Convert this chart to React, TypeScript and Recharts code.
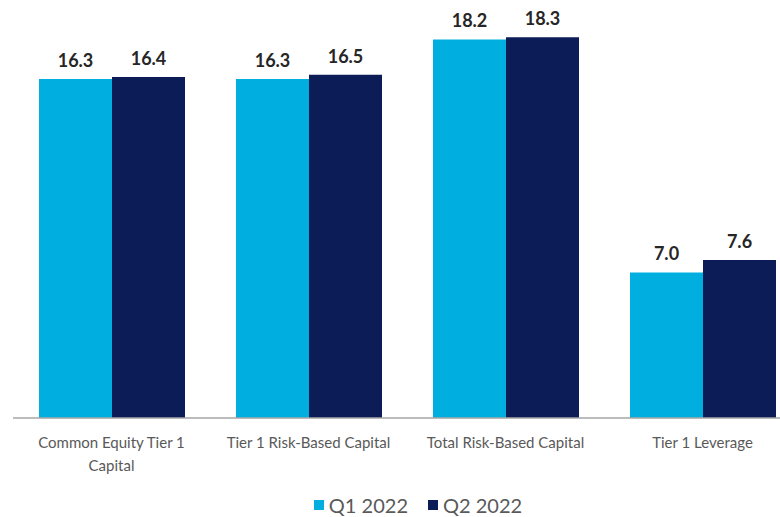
import React from 'react';
import { BarChart, Bar, XAxis, YAxis, Legend, LabelList } from 'recharts';

const categories = ['Common Equity Tier 1\nCapital', 'Tier 1 Risk-Based Capital', 'Total Risk-Based Capital', 'Tier 1 Leverage'];
const q1Values = [16.3, 16.3, 18.2, 7.0];
const q2Values = [16.4, 16.5, 18.3, 7.6];
const seriesNames = ['Q1 2022', 'Q2 2022'];
const seriesColors = ['#00AEDF', '#0B1C57'];

const data = categories.map((name, i) => ({ name, q1: q1Values[i], q2: q2Values[i] }));

const FONT = 'Lato, "Open Sans", sans-serif';

const CategoryTick = (props: any) => {
    const { x, y, payload } = props;
    const lines = String(payload.value).split('\n');
    return (
        <text x={x} y={y} textAnchor="middle" fill="#595959" fontSize={15} fontFamily={FONT}>
            {lines.map((line, i) => (
                <tspan key={i} x={x} dy={i === 0 ? 22 : 23}>{line}</tspan>
            ))}
        </text>
    );
};

const LegendContent = () => (
    <div style={{
        display: 'flex', alignItems: 'center', justifyContent: 'center', gap: 20,
        height: 30, paddingTop: 8, paddingBottom: 2, paddingLeft: 30, boxSizing: 'border-box',
        fontFamily: FONT, fontSize: 20, lineHeight: '20px', color: '#595959',
    }}>
        {seriesNames.map((n, i) => (
            <div key={n} style={{ display: 'flex', alignItems: 'center', gap: 5 }}>
                <span style={{ width: 10, height: 10, background: seriesColors[i], display: 'inline-block' }} />
                <span>{n}</span>
            </div>
        ))}
    </div>
);

const fmt = (v: any) => Number(v).toFixed(1);

export default function App() {
    return (
        <div style={{ position: 'absolute', left: 0, top: 0, width: 780, height: 517, overflow: 'hidden', background: '#fff' }}>
            <BarChart
                width={806}
                height={517}
                data={data}
                margin={{ top: 2, right: 5, left: 13, bottom: 0 }}
                barCategoryGap={26}
                barGap={0}
            >
                <XAxis
                    dataKey="name"
                    height={69}
                    tickLine={false}
                    axisLine={{ stroke: '#A6A6A6', strokeWidth: 1.5 }}
                    tick={<CategoryTick />}
                    interval={0}
                />
                <YAxis hide domain={[0, 20]} />
                <Legend verticalAlign="bottom" height={30} content={<LegendContent />} wrapperStyle={{ left: 0, width: 806 }} />
                <Bar dataKey="q1" name={seriesNames[0]} fill={seriesColors[0]} isAnimationActive={false}>
                    <LabelList dataKey="q1" position="top" offset={12} formatter={fmt} fill="#262626" fontSize={18} fontWeight="bold" fontFamily={FONT} />
                </Bar>
                <Bar dataKey="q2" name={seriesNames[1]} fill={seriesColors[1]} isAnimationActive={false}>
                    <LabelList dataKey="q2" position="top" offset={12} formatter={fmt} fill="#262626" fontSize={18} fontWeight="bold" fontFamily={FONT} />
                </Bar>
            </BarChart>
        </div>
    );
}
